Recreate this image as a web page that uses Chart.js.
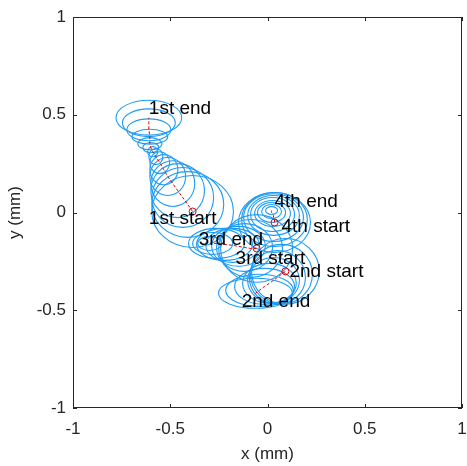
<!DOCTYPE html>
<html>
<head>
<meta charset="utf-8">
<script src="https://cdn.jsdelivr.net/npm/chart.js@4"></script>
<style>
  html, body { margin: 0; padding: 0; background: #fff; }
  canvas { display: block; }
</style>
</head>
<body>
<canvas id="trackChart" width="467" height="466"></canvas>
<script>
const AXIS_COLOR = '#262626';
const ELLIPSE_COLOR = '#1e9bf5';
const PATH_COLOR = '#e00000';
const FONT = '"Liberation Sans", Arial, Helvetica, sans-serif';

const tickValues = [-1, -0.5, 0, 0.5, 1];

// each track: ellipse centres (start -> end) and semi-axes, all in mm
const seg1X  = [-0.385, -0.410, -0.436, -0.462, -0.487, -0.513, -0.533, -0.554, -0.574, -0.590, -0.600, -0.605, -0.605, -0.610, -0.610, -0.610];
const seg1Y  = [0.005, 0.041, 0.077, 0.112, 0.148, 0.184, 0.219, 0.255, 0.286, 0.311, 0.332, 0.352, 0.388, 0.423, 0.459, 0.485];
const seg1Rx = [0.210, 0.185, 0.159, 0.138, 0.113, 0.092, 0.072, 0.051, 0.036, 0.026, 0.041, 0.062, 0.092, 0.113, 0.136, 0.169];
const seg1Ry = [0.184, 0.168, 0.153, 0.138, 0.117, 0.097, 0.077, 0.056, 0.041, 0.026, 0.026, 0.031, 0.038, 0.056, 0.071, 0.089];

const seg2X  = [0.092, 0.072, 0.051, 0.031, 0.010, -0.015, -0.041, -0.062];
const seg2Y  = [-0.301, -0.316, -0.332, -0.347, -0.362, -0.378, -0.398, -0.413];
const seg2Rx = [0.174, 0.159, 0.144, 0.133, 0.138, 0.154, 0.174, 0.190];
const seg2Ry = [0.168, 0.153, 0.138, 0.117, 0.102, 0.092, 0.082, 0.077];

const seg3X  = [-0.056, -0.087, -0.118, -0.149, -0.179, -0.221, -0.262, -0.282, -0.297];
const seg3Y  = [-0.184, -0.184, -0.179, -0.173, -0.168, -0.163, -0.158, -0.158, -0.158];
const seg3Rx = [0.185, 0.164, 0.144, 0.138, 0.138, 0.144, 0.144, 0.103, 0.062];
const seg3Ry = [0.173, 0.148, 0.122, 0.102, 0.087, 0.082, 0.077, 0.056, 0.036];

const seg4X  = [0.036, 0.036, 0.031, 0.031, 0.026, 0.026, 0.021, 0.021, 0.021];
const seg4Y  = [-0.051, -0.036, -0.026, -0.015, -0.010, -0.005, 0.000, 0.005, 0.010];
const seg4Rx = [0.185, 0.169, 0.154, 0.133, 0.113, 0.092, 0.072, 0.051, 0.031];
const seg4Ry = [0.153, 0.138, 0.122, 0.102, 0.087, 0.066, 0.051, 0.036, 0.020];

const labelText = ['1st start', '1st end', '2nd start', '2nd end', '3rd start', '3rd end', '4th start', '4th end'];
const labelX = [-0.610, -0.610, 0.113, -0.133, -0.164, -0.354, 0.072, 0.036];
const labelY = [-0.031, 0.531, -0.301, -0.459, -0.235, -0.138, -0.071, 0.056];

const segments = [
  { x: seg1X, y: seg1Y, rx: seg1Rx, ry: seg1Ry },
  { x: seg2X, y: seg2Y, rx: seg2Rx, ry: seg2Ry },
  { x: seg3X, y: seg3Y, rx: seg3Rx, ry: seg3Ry },
  { x: seg4X, y: seg4Y, rx: seg4Rx, ry: seg4Ry }
];

function toPoints(seg) {
  return seg.x.map((v, i) => ({ x: v, y: seg.y[i] }));
}

const datasets = [];
segments.forEach(seg => {
  datasets.push({
    type: 'line',
    data: toPoints(seg),
    ellipses: seg,
    showLine: true,
    borderColor: PATH_COLOR,
    borderWidth: 1,
    borderDash: [3, 2],
    pointRadius: 0,
    fill: false,
    tension: 0
  });
});
datasets.push({
  type: 'scatter',
  data: segments.map(seg => ({ x: seg.x[0], y: seg.y[0] })),
  pointStyle: 'circle',
  pointRadius: 3.5,
  borderColor: PATH_COLOR,
  backgroundColor: 'rgba(0,0,0,0)',
  borderWidth: 1
});

const ellipsePlugin = {
  id: 'ellipses',
  beforeDatasetsDraw(chart) {
    const { ctx, scales: { x, y }, chartArea } = chart;
    ctx.save();
    ctx.beginPath();
    ctx.rect(chartArea.left, chartArea.top, chartArea.width, chartArea.height);
    ctx.clip();
    ctx.strokeStyle = ELLIPSE_COLOR;
    ctx.lineWidth = 1.1;
    chart.data.datasets.forEach(ds => {
      const e = ds.ellipses;
      if (!e) return;
      e.x.forEach((cx, i) => {
        const px = x.getPixelForValue(cx);
        const py = y.getPixelForValue(e.y[i]);
        const rpx = Math.abs(x.getPixelForValue(cx + e.rx[i]) - px);
        const rpy = Math.abs(y.getPixelForValue(e.y[i] + e.ry[i]) - py);
        ctx.beginPath();
        ctx.ellipse(px, py, rpx, rpy, 0, 0, Math.PI * 2);
        ctx.stroke();
      });
    });
    ctx.restore();
  },
  afterDatasetsDraw(chart) {
    const { ctx, scales: { x, y } } = chart;
    ctx.save();
    ctx.fillStyle = '#000';
    ctx.font = '19px ' + FONT;
    ctx.textAlign = 'left';
    ctx.textBaseline = 'middle';
    labelText.forEach((t, i) => {
      ctx.fillText(t, x.getPixelForValue(labelX[i]), y.getPixelForValue(labelY[i]));
    });
    ctx.restore();
  }
};

const boxPlugin = {
  id: 'box',
  afterDraw(chart) {
    const { ctx, scales: { x, y }, chartArea: a } = chart;
    const len = 4;
    ctx.save();
    ctx.strokeStyle = AXIS_COLOR;
    ctx.lineWidth = 1;
    ctx.strokeRect(Math.round(a.left) + 0.5, Math.round(a.top) + 0.5,
      Math.round(a.width) - 1, Math.round(a.height) - 1);
    ctx.beginPath();
    tickValues.forEach(v => {
      const px = Math.round(x.getPixelForValue(v)) + 0.5;
      ctx.moveTo(px, a.bottom); ctx.lineTo(px, a.bottom - len);
      ctx.moveTo(px, a.top); ctx.lineTo(px, a.top + len);
      const py = Math.round(y.getPixelForValue(v)) + 0.5;
      ctx.moveTo(a.left, py); ctx.lineTo(a.left + len, py);
      ctx.moveTo(a.right, py); ctx.lineTo(a.right - len, py);
    });
    ctx.stroke();
    ctx.restore();
  }
};

const axisTicks = {
  color: AXIS_COLOR,
  font: { family: FONT, size: 17 },
  callback: v => String(v)
};

new Chart(document.getElementById('trackChart'), {
  data: { datasets: datasets },
  options: {
    responsive: false,
    animation: false,
    layout: { padding: { top: 17, right: 4, left: 0, bottom: 0 } },
    plugins: { legend: { display: false }, tooltip: { enabled: false } },
    scales: {
      x: {
        type: 'linear',
        min: -1, max: 1,
        afterBuildTicks: s => { s.ticks = tickValues.map(v => ({ value: v })); },
        afterFit: s => { s.height = 58; s.paddingLeft = 0; s.paddingRight = 0; },
        ticks: { ...axisTicks, padding: 11, maxRotation: 0 },
        grid: { display: false, drawTicks: false },
        border: { display: false },
        title: { display: true, text: 'x (mm)', color: AXIS_COLOR, font: { family: FONT, size: 17 }, padding: { top: 0, bottom: 1 } }
      },
      y: {
        type: 'linear',
        min: -1, max: 1,
        afterBuildTicks: s => { s.ticks = tickValues.map(v => ({ value: v })); },
        afterFit: s => { s.width = 73; s.paddingTop = 0; s.paddingBottom = 0; },
        ticks: { ...axisTicks, padding: 7 },
        grid: { display: false, drawTicks: false },
        border: { display: false },
        title: { display: true, text: 'y (mm)', color: AXIS_COLOR, font: { family: FONT, size: 17 }, padding: { top: 5, bottom: 0 } }
      }
    }
  },
  plugins: [ellipsePlugin, boxPlugin]
});
</script>
</body>
</html>
